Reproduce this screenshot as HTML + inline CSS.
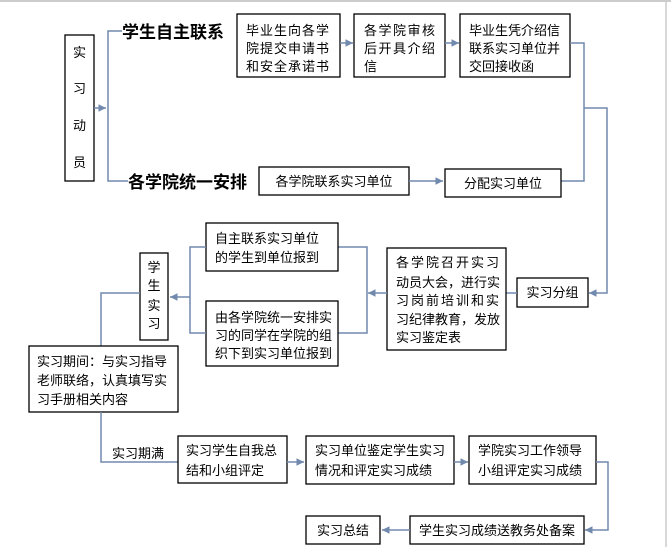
<!DOCTYPE html>
<html><head><meta charset="utf-8"><style>
html,body{margin:0;padding:0;background:#fff;}
svg{display:block;}
text{font-family:"Liberation Sans","Noto Sans CJK SC",sans-serif;font-size:13px;fill:#000;}
.b{fill:#fff;stroke:#000;stroke-width:1.3;}
.l{stroke:#7189ad;stroke-width:1.5;fill:none;}
.t{font-size:17px;font-weight:bold;}
</style></head><body>
<svg width="671" height="547" viewBox="0 0 671 547">
<defs><marker id="a" markerWidth="6" markerHeight="6" refX="5" refY="3" orient="auto"><path d="M0,0.5 L5,3 L0,5.5 z" fill="#7189ad"/></marker></defs>
<line x1="0" y1="1" x2="671" y2="1" stroke="#bbb" stroke-width="1.5"/>
<line x1="666" y1="0" x2="666" y2="547" stroke="#ccc" stroke-width="1.5"/>

<rect class="b" x="65" y="35" width="29" height="146"/>
<text x="79.5" y="57" text-anchor="middle">实</text>
<text x="79.5" y="93" text-anchor="middle">习</text>
<text x="79.5" y="130" text-anchor="middle">动</text>
<text x="79.5" y="167" text-anchor="middle">员</text>
<line class="l" x1="94" y1="108" x2="106" y2="108" marker-end="url(#a)"/>
<path class="l" d="M122,31 H108 V181 H128"/>
<text class="t" x="122" y="38">学生自主联系</text>
<text class="t" x="128" y="188">各学院统一安排</text>

<rect class="b" x="237" y="14" width="103" height="63"/>
<text x="246" y="35" letter-spacing="1">毕业生向各学</text>
<text x="246" y="53" letter-spacing="1">院提交申请书</text>
<text x="246" y="71" letter-spacing="1">和安全承诺书</text>
<rect class="b" x="354" y="14" width="91" height="63"/>
<text x="364" y="35" letter-spacing="1.5">各学院审核</text>
<text x="364" y="53" letter-spacing="1.5">后开具介绍</text>
<text x="364" y="71">信</text>
<rect class="b" x="460" y="14" width="110" height="63"/>
<text x="469" y="35">毕业生凭介绍信</text>
<text x="469" y="53">联系实习单位并</text>
<text x="469" y="71">交回接收函</text>
<line class="l" x1="340" y1="43" x2="353" y2="43" marker-end="url(#a)"/>
<line class="l" x1="445" y1="43" x2="459" y2="43" marker-end="url(#a)"/>
<path class="l" d="M570,43 H584 V181 H561"/>
<path class="l" d="M584,108 H607 V293 H589" marker-end="url(#a)"/>

<rect class="b" x="259" y="167" width="150" height="28"/>
<text x="334" y="186" text-anchor="middle">各学院联系实习单位</text>
<line class="l" x1="409" y1="181" x2="443" y2="181" marker-end="url(#a)"/>
<rect class="b" x="445" y="169" width="116" height="28"/>
<text x="503" y="188" text-anchor="middle">分配实习单位</text>

<rect class="b" x="517" y="278" width="71" height="29"/>
<text x="552.5" y="297" text-anchor="middle">实习分组</text>
<line class="l" x1="517" y1="293" x2="506" y2="293"/>

<rect class="b" x="387" y="248" width="119" height="102"/>
<text x="396" y="267" letter-spacing="2">各学院召开实习</text>
<text x="396" y="287">动员大会，进行实</text>
<text x="396" y="305" letter-spacing="2">习岗前培训和实</text>
<text x="396" y="324">习纪律教育，发放</text>
<text x="396" y="342">实习鉴定表</text>
<line class="l" x1="387" y1="293" x2="368" y2="293" marker-end="url(#a)"/>
<path class="l" d="M338,247 H367 V333 H338"/>

<rect class="b" x="206" y="223" width="132" height="48"/>
<text x="215" y="243">自主联系实习单位</text>
<text x="215" y="262">的学生到单位报到</text>
<rect class="b" x="206" y="301" width="132" height="65"/>
<text x="215" y="322">由各学院统一安排实</text>
<text x="215" y="340">习的同学在学院的组</text>
<text x="215" y="358">织下到实习单位报到</text>
<path class="l" d="M206,247 H190 V333 H206"/>
<line class="l" x1="190" y1="297" x2="170" y2="297" marker-end="url(#a)"/>

<rect class="b" x="140" y="253" width="28" height="87"/>
<text x="154" y="272" text-anchor="middle">学</text>
<text x="154" y="290" text-anchor="middle">生</text>
<text x="154" y="310" text-anchor="middle">实</text>
<text x="154" y="328" text-anchor="middle">习</text>
<path class="l" d="M140,293 H101 V346"/>

<rect class="b" x="29" y="346" width="149" height="66"/>
<text x="37" y="366">实习期间：与实习指导</text>
<text x="37" y="385">老师联络，认真填写实</text>
<text x="37" y="404">习手册相关内容</text>
<path class="l" d="M101,412 V462 H178"/>
<text x="112" y="458">实习期满</text>

<rect class="b" x="178" y="436" width="109" height="47"/>
<text x="186" y="455">实习学生自我总</text>
<text x="186" y="475">结和小组评定</text>
<line class="l" x1="287" y1="462" x2="304" y2="462" marker-end="url(#a)"/>
<rect class="b" x="306" y="436" width="148" height="48"/>
<text x="315" y="455">实习单位鉴定学生实习</text>
<text x="315" y="475">情况和评定实习成绩</text>
<line class="l" x1="454" y1="462" x2="468" y2="462" marker-end="url(#a)"/>
<rect class="b" x="469" y="436" width="127" height="48"/>
<text x="478" y="455">学院实习工作领导</text>
<text x="478" y="475">小组评定实习成绩</text>
<path class="l" d="M596,462 H608 V530 H585" marker-end="url(#a)"/>

<rect class="b" x="410" y="516" width="174" height="28"/>
<text x="497" y="535" text-anchor="middle">学生实习成绩送教务处备案</text>
<line class="l" x1="410" y1="530" x2="382" y2="530" marker-end="url(#a)"/>
<rect class="b" x="306" y="516" width="74" height="28"/>
<text x="343" y="535" text-anchor="middle">实习总结</text>
</svg>
</body></html>
